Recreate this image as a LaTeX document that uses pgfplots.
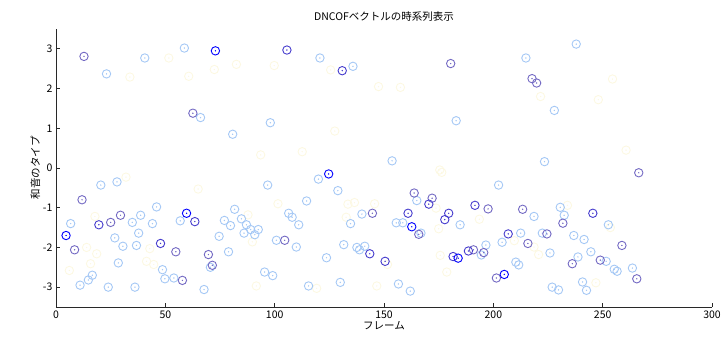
\documentclass[border=0pt]{standalone}
\usepackage{fontspec}
\setmainfont{Noto Sans CJK JP}
\usepackage{pgfplots}
\usepackage{pgfplotstable}
\pgfplotsset{compat=1.18}
\definecolor{cblue}{RGB}{0,0,255}
\definecolor{cmid}{RGB}{70,60,205}
\definecolor{cpur}{RGB}{115,105,195}
\definecolor{clight}{RGB}{165,200,245}
\definecolor{cfaint}{RGB}{252,248,226}
\definecolor{axgray}{RGB}{40,40,40}

\pgfplotstableread{
x y
33.8 2.29
51.6 2.77
60.7 2.31
72.4 2.48
82.5 2.61
99.8 2.58
125.6 2.47
147.5 2.05
157.5 2.03
221.6 1.80
254.5 2.24
248.0 1.72
260.7 0.45
127.5 0.93
93.6 0.33
112.6 0.41
175.5 -0.05
32.0 -0.23
65.0 -0.53
17.8 -1.22
14.0 -2.00
18.6 -2.16
15.8 -2.41
6.1 -2.58
42.9 -2.03
41.4 -2.35
44.7 -2.43
101.5 -0.90
87.8 -1.18
89.8 -1.86
91.6 -2.97
119.2 -3.03
146.7 -2.97
133.5 -0.91
136.5 -0.87
145.7 -0.90
132.7 -1.24
176.4 -0.11
173.8 -1.01
193.6 -1.29
175.0 -1.53
209.6 -1.83
218.6 -1.99
175.7 -2.20
220.7 -2.18
178.7 -2.62
151.6 -2.43
233.9 -0.94
246.9 -2.89
253.5 -1.50
}\faintdata

\pgfplotstableread{
x y
23.1 2.37
40.6 2.77
58.7 3.02
66.1 1.27
80.8 0.85
98.0 1.14
120.7 2.77
135.8 2.56
153.7 0.18
183.0 1.19
214.9 2.77
223.4 0.16
227.9 1.45
237.9 3.12
20.5 -0.43
27.9 -0.35
46.0 -0.98
6.7 -1.40
34.9 -1.37
38.7 -1.19
44.1 -1.40
56.8 -1.33
74.6 -1.72
26.9 -1.76
37.8 -1.64
30.6 -1.97
36.8 -1.95
70.6 -2.50
28.5 -2.39
48.7 -2.56
49.8 -2.79
53.9 -2.77
16.6 -2.70
14.8 -2.82
11.0 -2.95
23.9 -3.00
36.1 -3.00
67.7 -3.06
120.0 -0.28
96.8 -0.43
128.9 -0.57
114.6 -0.83
81.7 -1.04
77.0 -1.32
84.8 -1.28
79.8 -1.45
87.1 -1.43
89.0 -1.55
92.5 -1.55
86.0 -1.64
90.9 -1.68
106.4 -1.14
108.0 -1.24
111.0 -1.43
100.8 -1.82
109.9 -1.99
78.9 -2.11
95.4 -2.62
99.1 -2.71
115.5 -2.97
123.7 -2.26
130.0 -2.88
139.9 -1.16
134.7 -1.40
131.6 -1.93
137.6 -2.00
138.8 -2.06
141.2 -1.97
202.4 -0.43
165.0 -0.82
218.6 -1.22
155.6 -1.38
158.6 -1.38
184.8 -1.43
166.9 -1.64
212.5 -1.64
222.4 -1.64
196.6 -1.94
204.0 -1.87
194.5 -2.19
210.3 -2.37
211.6 -2.44
156.6 -2.92
162.0 -3.10
230.6 -0.99
232.4 -1.19
252.6 -1.43
236.8 -1.70
241.5 -1.80
225.9 -2.14
244.6 -2.11
238.7 -2.24
251.6 -2.35
255.3 -2.55
256.6 -2.60
263.6 -2.52
240.8 -2.87
226.9 -3.00
229.8 -3.07
242.6 -3.08
}\lightdata

\pgfplotstableread{
x y
12.8 2.81
62.6 1.38
8.5 -2.06
11.9 -0.80
25.0 -1.37
29.5 -1.19
54.8 -2.11
57.8 -2.83
69.7 -2.18
71.5 -2.45
104.6 -1.82
144.7 -1.14
163.8 -0.63
165.9 -1.67
172.0 -0.76
180.5 2.63
190.9 -2.06
195.6 -2.13
197.6 -1.03
201.4 -2.77
213.4 -1.04
215.8 -1.90
217.7 2.25
219.8 2.14
224.5 -1.66
231.8 -1.39
236.1 -2.41
248.9 -2.32
258.8 -1.95
265.6 -2.79
266.5 -0.12
}\purdata

\pgfplotstableread{
x y
19.6 -1.43
47.8 -1.90
63.5 -1.35
105.6 2.97
130.9 2.45
143.5 -2.16
150.5 -2.35
161.0 -1.14
170.5 -0.91
177.8 -1.30
179.6 -1.14
181.6 -2.23
188.6 -2.09
191.6 -0.94
206.8 -1.66
245.5 -1.14
}\middata

\pgfplotstableread{
x y
4.6 -1.70
59.7 -1.14
72.9 2.95
124.7 -0.15
162.7 -1.48
183.9 -2.27
205.0 -2.68
}\bluedata

\begin{document}
\begin{tikzpicture}
\begin{axis}[
  scale only axis,
  width=656pt, height=278pt,
  xmin=0, xmax=300, ymin=-3.5, ymax=3.5,
  axis lines=left,
  axis line style={-, axgray, line width=0.8pt},
  tick align=inside,
  xtick={0,50,...,300},
  ytick={-3,-2,...,3},
  major tick length=4pt,
  tick style={axgray, line width=0.8pt},
  ticklabel style={font=\fontsize{10.5}{12}\selectfont, text=black},
  /pgf/number format/assume math mode=true,
  title={DNCOFベクトルの時系列表示},
  title style={font=\fontsize{10.5}{12}\selectfont, yshift=-2pt},
  xlabel={フレーム},
  ylabel={和音のタイプ},
  label style={font=\fontsize{10.5}{12}\selectfont},
  xlabel style={yshift=4pt},
  ylabel style={yshift=-4pt},
  clip=false,
]
\addplot[only marks, mark=o, mark size=4.2pt, cfaint, mark options={line width=0.9pt}] table {\faintdata};
\addplot[only marks, mark=*, mark size=0.45pt, cfaint] table {\faintdata};
\addplot[only marks, mark=o, mark size=4.2pt, clight, mark options={line width=0.9pt}] table {\lightdata};
\addplot[only marks, mark=*, mark size=0.45pt, clight] table {\lightdata};
\addplot[only marks, mark=o, mark size=4.2pt, cpur, mark options={line width=0.9pt}] table {\purdata};
\addplot[only marks, mark=*, mark size=0.45pt, cpur] table {\purdata};
\addplot[only marks, mark=o, mark size=4.2pt, cmid, mark options={line width=0.9pt}] table {\middata};
\addplot[only marks, mark=*, mark size=0.45pt, cmid] table {\middata};
\addplot[only marks, mark=o, mark size=4.2pt, cblue, mark options={line width=0.9pt}] table {\bluedata};
\addplot[only marks, mark=*, mark size=0.45pt, cblue] table {\bluedata};
\end{axis}
\pgfresetboundingbox
\path[use as bounding box] (-56pt,-35pt) rectangle (666pt,307pt);
\end{tikzpicture}
\end{document}
